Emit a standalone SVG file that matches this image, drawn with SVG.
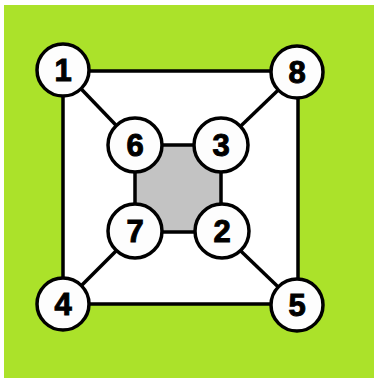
<svg xmlns="http://www.w3.org/2000/svg" width="374" height="378" viewBox="0 0 374 378">
<style>
.n circle{fill:#fdfdfd;stroke:#000;stroke-width:3.5}
.n text{font-family:"Liberation Sans",Arial,sans-serif;font-weight:bold;font-size:31px;text-anchor:middle;fill:#000;stroke:#000;stroke-width:1}
.e{stroke:#000;stroke-width:3.5;fill:none}
</style>
<rect x="0" y="0" width="374" height="378" fill="#fff"/>
<rect x="4" y="5" width="370" height="373" fill="#abe22a"/>
<rect x="63" y="71" width="235" height="233" fill="#fff"/>
<g id="connectors">
<rect x="63" y="71" width="235" height="233" class="e"/>
<rect x="135" y="145" width="86" height="87" fill="#c3c3c3" stroke="#000" stroke-width="3.5"/>
<line class="e" x1="63" y1="70" x2="135" y2="145"/>
<line class="e" x1="297" y1="72" x2="221" y2="145"/>
<line class="e" x1="63" y1="304" x2="135" y2="232"/>
<line class="e" x1="297" y1="305" x2="221" y2="232"/>
</g>
<g id="n1" class="n"><circle cx="63" cy="70" r="26"/><text x="63" y="81">1</text></g>
<g id="n8" class="n"><circle cx="297" cy="72" r="26"/><text x="297" y="83">8</text></g>
<g id="n4" class="n"><circle cx="63" cy="304" r="26"/><text x="63" y="315">4</text></g>
<g id="n5" class="n"><circle cx="297" cy="305" r="26"/><text x="297" y="316">5</text></g>
<g id="n6" class="n"><circle cx="135" cy="145" r="27"/><text x="135" y="156">6</text></g>
<g id="n3" class="n"><circle cx="221" cy="145" r="27"/><text x="221" y="156">3</text></g>
<g id="n7" class="n"><circle cx="135" cy="231" r="27"/><text x="135" y="242">7</text></g>
<g id="n2" class="n"><circle cx="222" cy="231" r="27"/><text x="222" y="242">2</text></g>
</svg>
